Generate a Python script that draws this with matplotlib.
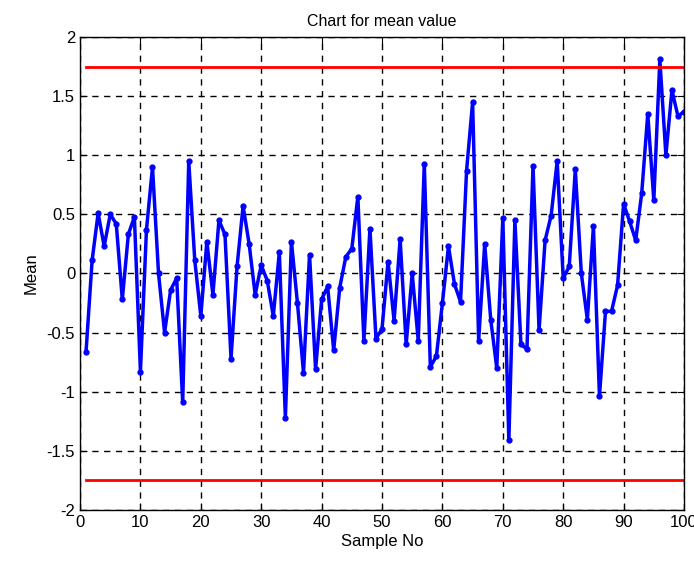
import numpy as np
import matplotlib
matplotlib.use('Agg')
import matplotlib.pyplot as plt

#Sample means, samples 1..100
sample_no = np.arange(1, 101)
mean_vals = [-0.66, 0.11, 0.51, 0.23, 0.50, 0.42, -0.22, 0.33, 0.48, -0.83,
             0.37, 0.90, 0.00, -0.50, -0.14, -0.04, -1.09, 0.95, 0.11, -0.36,
             0.27, -0.18, 0.45, 0.33, -0.72, 0.06, 0.57, 0.25, -0.18, 0.07,
             -0.06, -0.36, 0.18, -1.22, 0.27, -0.25, -0.84, 0.16, -0.81, -0.22,
             -0.11, -0.65, -0.12, 0.14, 0.21, 0.65, -0.57, 0.38, -0.55, -0.47,
             0.10, -0.40, 0.29, -0.60, 0.00, -0.57, 0.93, -0.79, -0.70, -0.25,
             0.23, -0.09, -0.24, 0.87, 1.45, -0.57, 0.25, -0.39, -0.80, 0.47,
             -1.41, 0.45, -0.60, -0.64, 0.91, -0.48, 0.28, 0.49, 0.95, -0.04,
             0.06, 0.88, 0.00, -0.39, 0.40, -1.04, -0.32, -0.32, -0.10, 0.59,
             0.44, 0.28, 0.68, 1.35, 0.62, 1.81, 1.00, 1.55, 1.33, 1.37]

#Control limits
ucl = 1.75
lcl = -1.75

xticks = list(range(0, 101, 10))
yticks = [-2, -1.5, -1, -0.5, 0, 0.5, 1, 1.5, 2]
ytick_labels = ['-2', '-1.5', '-1', '-0.5', '0', '0.5', '1', '1.5', '2']

plt.rcParams['font.family'] = ['Liberation Sans Narrow', 'Liberation Sans', 'DejaVu Sans']
plt.rcParams['axes.unicode_minus'] = False

fig = plt.figure(figsize=(6.94, 5.61), dpi=100)
ax = fig.add_axes([0.1153, 0.091, 0.8703, 0.843])

ax.plot(sample_no, mean_vals, color='#0000ff', linewidth=2.5, marker='.', markersize=7)
ax.plot([sample_no[0], sample_no[-1]], [ucl, ucl], color='#ff0000', linewidth=2)
ax.plot([sample_no[0], sample_no[-1]], [lcl, lcl], color='#ff0000', linewidth=2)

ax.set_xlim(0, 100)
ax.set_ylim(-2, 2)
ax.set_xticks(xticks)
ax.set_xticklabels([str(t) for t in xticks])
ax.set_yticks(yticks)
ax.set_yticklabels(ytick_labels)
ax.tick_params(direction='in', top=True, right=True, length=5, labelsize=12, colors='black')

#MATLAB style dashed grid
ax.grid(True, color='black', linestyle=(0, (4.5, 4)), linewidth=1)
for s in ax.spines.values():
    s.set_color('black')
    s.set_linewidth(1)

ax.set_title('Chart for mean value', fontsize=11.5, pad=8)
ax.set_xlabel('Sample No', fontsize=12, labelpad=3)
ax.set_ylabel('Mean', fontsize=12, labelpad=6)

plt.savefig('out.png', dpi=100)
plt.close()
